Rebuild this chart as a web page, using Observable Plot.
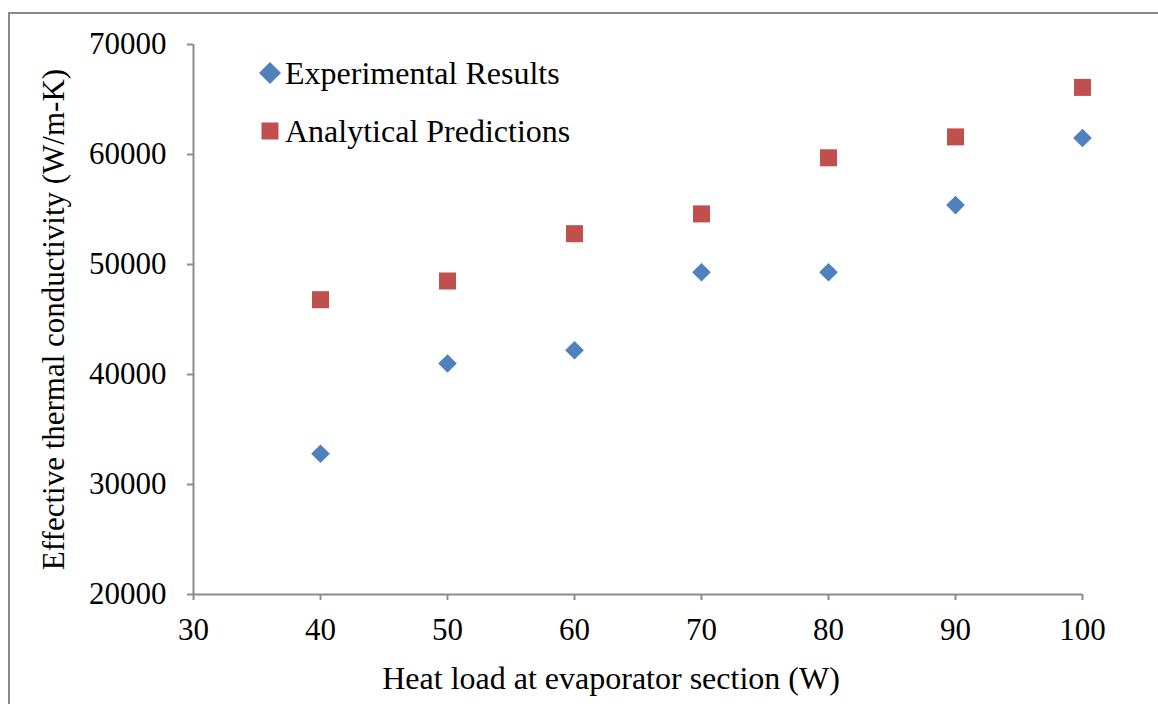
<!DOCTYPE html>
<html>
<head>
<meta charset="utf-8">
<script src="https://cdn.jsdelivr.net/npm/d3@7"></script>
<script src="https://cdn.jsdelivr.net/npm/@observablehq/plot@0.6"></script>
<style>
  html, body { margin: 0; padding: 0; background: #fff; }
  #wrap { position: relative; width: 1158px; height: 704px; overflow: hidden; font-family: "Liberation Serif", "Times New Roman", serif; }
  #border { position: absolute; left: 8px; top: 12px; width: 1160px; height: 720px; border-top: 2px solid #888; border-left: 2px solid #888; box-sizing: border-box; }
  #legend { position: absolute; left: 258px; top: 44px; font-size: 32px; color: #000; }
  #legend .item { display: flex; align-items: center; height: 58px; }
  #legend svg { margin-right: 3px; }
</style>
</head>
<body>
<div id="wrap">
  <div id="border"></div>
  <div id="chart"></div>
  <div id="legend"></div>
</div>
<script>
const heatLoad = [40, 50, 60, 70, 80, 90, 100];
const experimental = [32800, 41000, 42200, 49300, 49300, 55400, 61500];
const analytical = [46800, 48500, 52800, 54600, 59700, 61600, 66100];
const xTicks = [30, 40, 50, 60, 70, 80, 90, 100];
const yTicks = [20000, 30000, 40000, 50000, 60000, 70000];
const seriesNames = ["Experimental Results", "Analytical Predictions"];
const seriesColors = ["#4F81BD", "#C0504D"];
const xTitle = "Heat load at evaporator section (W)";
const yTitle = "Effective thermal conductivity (W/m-K)";

const expData = heatLoad.map((x, i) => ({x, y: experimental[i]}));
const anaData = heatLoad.map((x, i) => ({x, y: analytical[i]}));

const axisColor = "#8c8c8c";
const plot = Plot.plot({
  width: 1158,
  height: 704,
  marginLeft: 193,
  marginRight: 76,
  marginTop: 44,
  marginBottom: 110,
  style: {fontFamily: "'Liberation Serif', 'Times New Roman', serif", fontSize: "31px", background: "transparent", color: "#000"},
  x: {domain: [30, 100]},
  y: {domain: [20000, 70000]},
  marks: [
    Plot.axisX({ticks: xTicks, tickSize: 6, tickPadding: 17, stroke: axisColor, fill: "#000", strokeWidth: 2,
      label: null, tickFormat: d => String(d)}),
    Plot.text([xTitle], {frameAnchor: "bottom", dy: 84, dx: -27, lineAnchor: "middle", fontSize: 32, fill: "#000"}),
    Plot.axisY({ticks: yTicks, tickSize: 6, tickPadding: 21, stroke: axisColor, fill: "#000", strokeWidth: 2,
      label: null, tickFormat: d => String(d)}),
    Plot.axisY({ticks: [], label: yTitle, labelAnchor: "center", labelOffset: 152, labelArrow: "none", fontSize: 31, fill: "#000"}),
    Plot.ruleX([30], {stroke: axisColor, strokeWidth: 2}),
    Plot.ruleY([20000], {stroke: axisColor, strokeWidth: 2}),
    Plot.dot(expData, {x: "x", y: "y", symbol: "diamond2", fill: seriesColors[0], stroke: null, r: 8.4}),
    Plot.dot(anaData, {x: "x", y: "y", symbol: "square", fill: seriesColors[1], stroke: null, r: 9.6})
  ]
});
document.getElementById("chart").appendChild(plot);

const legend = document.getElementById("legend");
seriesNames.forEach((name, i) => {
  const item = document.createElement("div");
  item.className = "item";
  const shape = i === 0
    ? `<svg width="24" height="24" viewBox="-12 -12 24 24"><path d="M0,-11L11,0L0,11L-11,0Z" fill="${seriesColors[i]}"/></svg>`
    : `<svg width="24" height="24" viewBox="-12 -12 24 24"><rect x="-8.5" y="-8.5" width="17" height="17" fill="${seriesColors[i]}"/></svg>`;
  item.innerHTML = shape + `<span>${name}</span>`;
  legend.appendChild(item);
});
</script>
</body>
</html>
